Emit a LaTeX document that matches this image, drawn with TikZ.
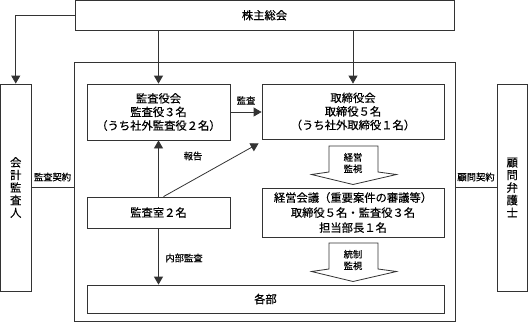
\documentclass[tikz,border=0pt]{standalone}
\usepackage{fontspec}
\setmainfont{Noto Sans CJK JP}[FakeBold=0.35]
\usetikzlibrary{arrows.meta,calc}
\begin{document}
\begin{tikzpicture}[x=1pt,y=-1pt,
  box/.style={draw=black!80,line width=0.8pt,inner sep=0pt,align=center,
    font=\fontsize{11.3}{13.6}\selectfont},
  lbl/.style={inner sep=0pt,font=\fontsize{9.3}{11}\selectfont,align=center},
  arr/.style={draw=black!80,line width=0.8pt,-{Triangle[length=8pt,width=9pt]}},
  ln/.style={draw=black!80,line width=0.8pt},
  blk/.style={draw=black!80,line width=0.8pt,fill=white}]
\useasboundingbox (0,0) rectangle (528,322);
% frames
\node[box,minimum width=381pt,minimum height=259.5pt] (cont) at (264.5,191.75) {};
\node[box,minimum width=379pt,minimum height=29.5pt] (top) at (264.5,15.25) {株主総会};
\node[box,minimum width=30.5pt,minimum height=207pt,font=\fontsize{11.3}{12.6}\selectfont] (aud) at (15.75,187.5) {会\\計\\監\\査\\人};
\node[box,minimum width=30.5pt,minimum height=207pt,font=\fontsize{11.3}{12.6}\selectfont] (law) at (512.25,187.5) {顧\\問\\弁\\護\\士};
\node[box,minimum width=143pt,minimum height=56pt] (kyk) at (158.5,112) {監査役会\\監査役３名\\（うち社外監査役２名）};
\node[box,minimum width=182pt,minimum height=55pt] (trk) at (353,111.5) {取締役会\\取締役５名\\（うち社外取締役１名）};
\node[box,minimum width=143pt,minimum height=31pt] (ksh) at (158.5,212.5) {監査室２名};
\node[box,minimum width=182pt,minimum height=49pt,font=\fontsize{11.3}{15}\selectfont] (kei) at (353,212.5) {経営会議（重要案件の審議等）\\取締役５名・監査役３名\\担当部長１名};
\node[box,minimum width=357pt,minimum height=28pt] (kbu) at (265.5,299) {各部};
% connectors
\draw[arr] (top.west) -| (aud.north);
\draw[arr] (top.south -| kyk.north) -- (kyk.north);
\draw[arr] (top.south -| trk.north) -- (trk.north);
\draw[arr] (kyk.east) -- (kyk.east -| trk.west) node[lbl,midway,above=7pt] (l1) {監査};
\draw[arr] (ksh.north) -- (kyk.south);
\coordinate (rtip) at ([shift={(-3,4)}]trk.south west);
\draw[arr] ([xshift=5pt]ksh.north) -- (rtip);
\node[lbl] (l2) at (193,156) {報告};
\draw[arr] (ksh.south) -- (ksh.south |- kbu.north);
\node[lbl] (l3) at (184,258) {内部監査};
\draw[ln] (aud.east |- 0,187) -- (cont.west |- 0,187);
\node[lbl] (l4) at (52.5,177) {監査契約};
\draw[ln] (cont.east |- 0,187) -- (law.west |- 0,187);
\node[lbl] (l5) at (476,177) {顧問契約};
% block arrows
\foreach \yy/\ta/\tb in {146/経営/監視, 243/統制/監視}{
  \draw[blk] (329,\yy) -- (378,\yy) -- (378,\yy+26) -- (396.5,\yy+28.5) -- (353,\yy+38.5)
    -- (311.5,\yy+28.5) -- (329,\yy+26) -- cycle;
  \node[lbl,font=\fontsize{9.3}{11.5}\selectfont] at (353,\yy+17) {\ta\\\tb};
}
\end{tikzpicture}
\end{document}
